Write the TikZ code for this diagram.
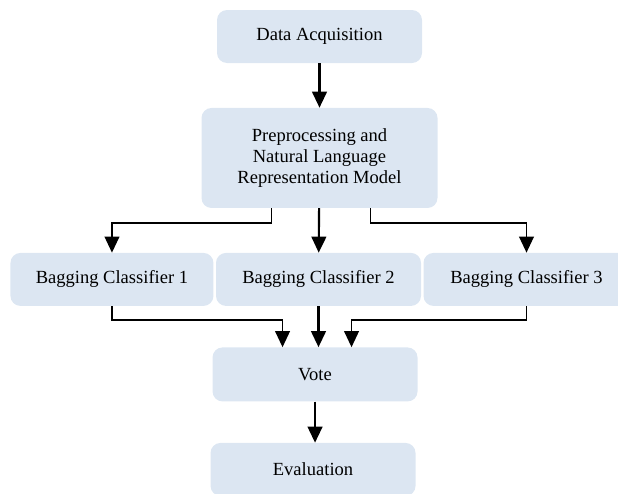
\documentclass[tikz,border=0pt]{standalone}
\usepackage{fontspec}
\setmainfont{Liberation Serif}
\usetikzlibrary{arrows.meta,calc}
\definecolor{boxblue}{HTML}{DCE6F2}

\begin{document}
\begin{tikzpicture}[auto, x=0.75pt, y=-0.75pt, node distance=91.1pt,
                    main node/.style={rectangle,rounded corners=7.5pt,fill=boxblue,inner sep=0pt,
                      minimum width=153.75pt,minimum height=39.75pt,align=center,
                      font=\fontsize{13.9}{15.8}\selectfont},
                    link/.style={line width=1.6pt,-{Triangle[length=12pt,width=11pt]}},
                    elbow/.style={line width=1.25pt,-{Triangle[length=12pt,width=11pt]}}]

  \useasboundingbox (0,0) rectangle (618,493);

  \node[main node] (1) at (319.5,36.5) {Data Acquisition};
  \node[main node, minimum width=177pt, minimum height=75pt] (2) [below of=1] {Preprocessing and\\Natural Language\\Representation Model};
    \node[main node] (4) [below of=2, xshift=-0.75pt] {Bagging Classifier 2};
      \node[main node, minimum width=152.25pt] (3) [left of=4, node distance=154.9pt] {Bagging Classifier 1};
      \node[main node, minimum width=154.5pt] (5) [right of=4, node distance=156pt] {Bagging Classifier 3};
        \node[main node, minimum height=40.5pt] (6) [below of=4, node distance=71.25pt, xshift=-2.6pt] {Vote};
          \node[main node] (7) [below of=6, node distance=71.25pt, xshift=-1.5pt] {Evaluation};

  \draw[link] (1) -- (2);
  \draw[link] (2) -- (4);
  \draw[elbow] ($(2.south)+(-48,0)$) -- ++(0,15) -| (3.north);
  \draw[elbow] ($(2.south)+(51,0)$) -- ++(0,15) -| (5.north);

  \draw[elbow] (3.south) -- ++(0,14) -| ($(6.north)+(-32.5,0)$);
  \draw[link] (4) -- (4 |- 6.north);
  \draw[elbow] (5.south) -- ++(0,14) -| ($(6.north)+(36.5,0)$);
  \draw[link] (6) -- (6 |- 7.north);

\end{tikzpicture}
\end{document}
